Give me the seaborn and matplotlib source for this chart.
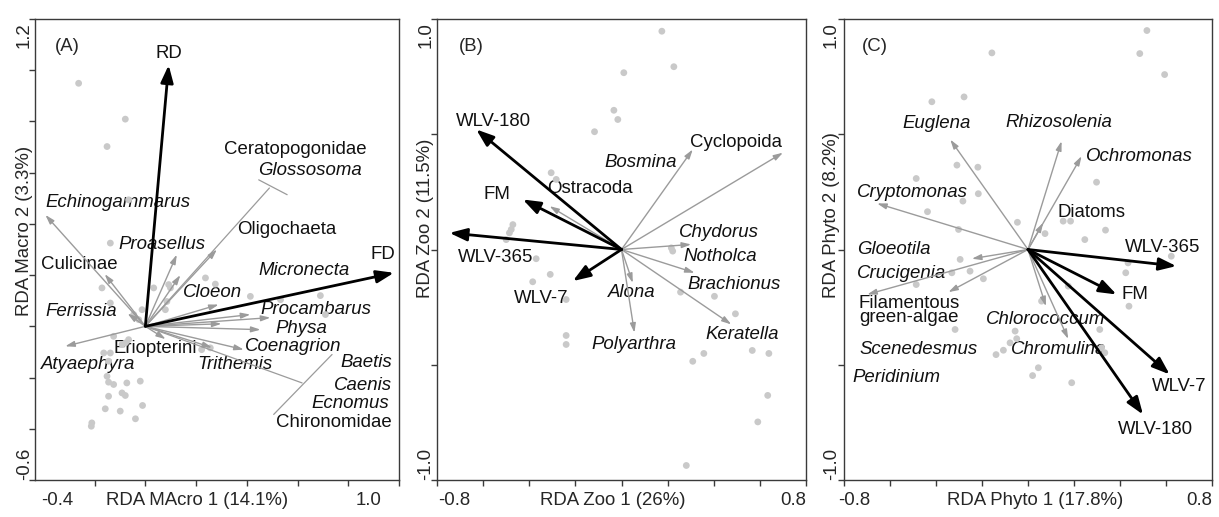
import matplotlib
matplotlib.use("Agg")
import matplotlib.pyplot as plt
import pandas as pd
import seaborn as sns

sns.set_theme(style="white")
plt.rcParams["font.family"] = ["Liberation Sans", "DejaVu Sans"]
FS = 13.4
plt.rcParams["font.size"] = FS

# ---------------- (A) macroinvertebrates ----------------
macro_site_x = [-0.263, -0.079, -0.151, -0.066, -0.138, -0.171, -0.138, -0.046, -0.013, -0.125,
                -0.066, -0.079, -0.164, -0.138, -0.145, -0.151, -0.145, -0.125, -0.073, -0.020,
                -0.092, -0.079, -0.145, -0.158, -0.099, -0.011, -0.039, -0.211, -0.213, 0.092,
                0.099, 0.033, 0.237, 0.276, 0.085, 0.079, 0.414, 0.533, 0.690, 0.710,
                0.222, 0.256, -0.026, -0.092]
macro_site_y = [0.949, 0.809, 0.702, 0.494, 0.325, 0.150, 0.091, 0.046, 0.065, -0.039,
                -0.052, -0.065, -0.104, -0.104, -0.136, -0.195, -0.218, -0.227, -0.221, -0.214,
                -0.260, -0.270, -0.273, -0.322, -0.331, -0.309, -0.361, -0.377, -0.390, 0.163,
                0.150, 0.150, 0.189, 0.165, 0.097, 0.065, 0.117, 0.104, 0.120, 0.046,
                -0.091, -0.084, 0.026, -0.071]
macro_env = ["RD", "FD"]
macro_env_x = [0.092, 0.980]
macro_env_y = [1.020, 0.209]
macro_taxa = ["Echinogammarus", "Culicinae", "Ferrissia", "Atyaephyra", "Proasellus",
              "Oligochaeta", "Cloeon", "Micronecta", "Procambarus", "Physa",
              "Coenagrion", "Trithemis", "Eriopterini", "", ""]
macro_taxa_x = [-0.394, -0.160, -0.070, -0.316, 0.124, 0.282, 0.289, 0.414, 0.493, 0.454,
                0.388, 0.263, 0.080, 0.138, 0.300]
macro_taxa_y = [0.435, 0.204, 0.050, -0.078, 0.280, 0.300, 0.085, 0.046, 0.034, -0.013,
                -0.091, -0.083, -0.050, 0.200, 0.010]
# taxa sharing one vector, ended by a bar
macro_group = ["Ceratopogonidae, Glossosoma", "Baetis, Caenis, Ecnomus, Chironomidae"]
macro_group_x = [0.489, 0.618]
macro_group_y = [0.540, -0.221]
macro_bar_x = [(0.447, 0.559), (0.736, 0.506)]
macro_bar_y = [(0.572, 0.514), (-0.110, -0.344)]

# ---------------- (B) zooplankton ----------------
zoo_site_x = [0.175, 0.227, 0.010, -0.033, -0.016, -0.117, -0.305, -0.283, -0.471, -0.478,
              -0.486, -0.500, 0.216, -0.370, -0.309, -0.385, -0.240, -0.240, -0.240, 0.256,
              0.403, 0.494, 0.357, 0.309, 0.567, 0.639, 0.634, 0.591, 0.281, 0.222]
zoo_site_y = [0.947, 0.793, 0.767, 0.604, 0.564, 0.511, 0.333, 0.304, 0.108, 0.087,
              0.072, 0.043, 0.007, -0.040, -0.108, -0.140, -0.217, -0.373, -0.412, -0.185,
              -0.203, -0.279, -0.451, -0.485, -0.438, -0.451, -0.633, -0.748, -0.937, -0.007]
zoo_env = ["WLV-180", "FM", "WLV-365", "WLV-7"]
zoo_env_x = [-0.630, -0.428, -0.746, -0.211]
zoo_env_y = [0.521, 0.217, 0.072, -0.137]
zoo_taxa = ["Bosmina", "Cyclopoida", "Ostracoda", "Chydorus", "Brachionus",
            "Keratella", "Alona", "Polyarthra"]
zoo_taxa_x = [0.309, 0.700, -0.312, 0.302, 0.317, 0.476, 0.049, 0.056]
zoo_taxa_y = [0.434, 0.420, 0.188, 0.022, -0.101, -0.325, -0.145, -0.361]

# ---------------- (C) phytoplankton ----------------
phyto_site_x = [0.517, 0.486, 0.594, -0.157, -0.418, -0.278, -0.309, -0.218, -0.486, -0.283,
                -0.216, -0.437, -0.302, 0.298, -0.046, 0.074, 0.153, 0.185, 0.337, 0.247,
                -0.295, -0.252, -0.331, -0.194, -0.486, -0.317, -0.056, -0.049, -0.078, -0.107,
                -0.139, 0.045, 0.020, 0.190, 0.059, 0.312, 0.320, 0.334, 0.435, 0.425,
                0.439, 0.623, 0.175]
phyto_site_y = [0.950, 0.850, 0.759, 0.853, 0.641, 0.662, 0.366, 0.357, 0.308, 0.210,
                0.242, 0.164, 0.087, 0.292, 0.118, 0.069, 0.123, 0.123, 0.084, 0.043,
                -0.043, -0.094, -0.101, -0.127, -0.152, -0.347, -0.354, -0.387, -0.405, -0.437,
                -0.456, -0.513, -0.547, -0.578, -0.224, -0.347, -0.426, -0.448, -0.058, -0.101,
                -0.246, -0.029, -0.159]
phyto_env = ["WLV-365", "FM", "WLV-7", "WLV-180"]
phyto_env_x = [0.645, 0.385, 0.616, 0.500]
phyto_env_y = [-0.072, -0.195, -0.542, -0.716]
phyto_taxa = ["Euglena", "Rhizosolenia", "Ochromonas", "Diatoms", "Cryptomonas",
              "Gloeotila", "Crucigenia", "Filamentous green-algae", "Chlorococcum", "Chromulina"]
phyto_taxa_x = [-0.338, 0.146, 0.233, 0.066, -0.656, -0.244, -0.346, -0.699, 0.078, 0.175]
phyto_taxa_y = [0.477, 0.470, 0.405, 0.116, 0.200, -0.040, -0.185, -0.195, -0.246, -0.388]

# label placement: (text, x, y, horizontal alignment, italic)
macro_labels = [
    ("RD", 0.092, 1.067, "center", False), ("FD", 0.937, 0.280, "center", False),
    ("Ceratopogonidae", 0.873, 0.689, "right", False), ("Glossosoma", 0.853, 0.607, "right", True),
    ("Echinogammarus", -0.394, 0.482, "left", True), ("Oligochaeta", 0.559, 0.377, "center", False),
    ("Proasellus", 0.066, 0.318, "center", True), ("Culicinae", -0.413, 0.240, "left", False),
    ("Micronecta", 0.624, 0.218, "center", True), ("Cloeon", 0.263, 0.131, "center", True),
    ("Ferrissia", -0.393, 0.057, "left", True), ("Procambarus", 0.672, 0.065, "center", True),
    ("Physa", 0.615, -0.010, "center", True), ("Coenagrion", 0.583, -0.078, "center", True),
    ("Eriopterini", 0.039, -0.087, "center", False), ("Atyaephyra", -0.413, -0.149, "left", True),
    ("Trithemis", 0.352, -0.149, "center", True), ("Baetis", 0.972, -0.143, "right", True),
    ("Caenis", 0.972, -0.231, "right", True), ("Ecnomus", 0.960, -0.301, "right", True),
    ("Chironomidae", 0.972, -0.374, "right", False),
]
zoo_labels = [
    ("WLV-180", -0.555, 0.557, "center", False), ("FM", -0.538, 0.239, "center", False),
    ("WLV-365", -0.547, -0.036, "center", False), ("WLV-7", -0.349, -0.214, "center", False),
    ("Cyclopoida", 0.497, 0.466, "center", False), ("Bosmina", 0.085, 0.376, "center", True),
    ("Ostracoda", -0.139, 0.263, "center", False), ("Chydorus", 0.421, 0.072, "center", True),
    ("Notholca", 0.429, -0.032, "center", True), ("Brachionus", 0.490, -0.152, "center", True),
    ("Alona", 0.046, -0.188, "center", True), ("Keratella", 0.523, -0.369, "center", True),
    ("Polyarthra", 0.056, -0.412, "center", True),
]
phyto_labels = [
    ("WLV-365", 0.587, 0.009, "center", False), ("FM", 0.464, -0.195, "center", False),
    ("WLV-7", 0.659, -0.593, "center", False), ("WLV-180", 0.554, -0.781, "center", False),
    ("Euglena", -0.398, 0.547, "center", True), ("Rhizosolenia", 0.134, 0.550, "center", True),
    ("Ochromonas", 0.486, 0.405, "center", True), ("Diatoms", 0.276, 0.162, "center", False),
    ("Cryptomonas", -0.743, 0.246, "left", True), ("Gloeotila", -0.743, 0.000, "left", True),
    ("Crucigenia", -0.743, -0.104, "left", True),
    ("Filamentous\ngreen-algae", -0.518, -0.265, "center", False),
    ("Chlorococcum", 0.077, -0.304, "center", True), ("Scenedesmus", -0.476, -0.434, "center", True),
    ("Chromulina", 0.134, -0.434, "center", True), ("Peridinium", -0.764, -0.557, "left", True),
]

SITE_COLOR = "#c9c9c9"
TAXA_COLOR = "#9b9b9b"
FRAME_COLOR = "#3a3a3a"


def vector(ax, x, y, color, lw, hl, hw, z):
    ax.annotate("", xy=(x, y), xytext=(0.0, 0.0), xycoords="data", textcoords="data",
                arrowprops=dict(arrowstyle=f"-|>,head_length={hl},head_width={hw}",
                                color=color, lw=lw, shrinkA=0, shrinkB=0, mutation_scale=10),
                zorder=z, annotation_clip=False)


def biplot(ax, sx, sy, tx, ty, ex, ey, labels, xlim, ylim, xticks, yticks,
           xends, yends, xtitle, ytitle, tag, layout):
    sites = pd.DataFrame({"x": sx, "y": sy})
    sns.scatterplot(data=sites, x="x", y="y", ax=ax, color=SITE_COLOR, s=24,
                    edgecolor="none", linewidth=0, zorder=3, legend=False)
    for x, y in zip(tx, ty):
        vector(ax, x, y, TAXA_COLOR, 1.0, 0.55, 0.17, 4)
    for x, y in zip(ex, ey):
        vector(ax, x, y, "black", 2.0, 1.05, 0.38, 5)
    for text, x, y, ha, it in labels:
        ax.text(x, y, text, ha=ha, va="center", fontsize=FS, color="#111111",
                style="italic" if it else "normal", linespacing=0.8, zorder=2)

    ax.set_xlim(*xlim)
    ax.set_ylim(*ylim)
    ax.set_xticks(xticks)
    ax.set_yticks(yticks)
    ax.set_xticklabels([])
    ax.set_yticklabels([])
    ax.set_xlabel("")
    ax.set_ylabel("")
    ax.tick_params(direction="out", length=4, width=1, color=FRAME_COLOR,
                   bottom=True, left=True)
    for sp in ax.spines.values():
        sp.set_color(FRAME_COLOR)
        sp.set_linewidth(1.0)

    xl, xr, ylx, ty_top, xt, yt = layout
    ax.text(xl, -0.0434, xends[0], transform=ax.transAxes, ha="left", va="center", fontsize=FS)
    ax.text(xr, -0.0434, xends[1], transform=ax.transAxes, ha="right", va="center", fontsize=FS)
    ax.text(xt, -0.0434, xtitle, transform=ax.transAxes, ha="center", va="center", fontsize=FS)
    ax.text(ylx, 0.0, yends[0], transform=ax.transAxes, rotation=90, ha="center", va="bottom", fontsize=FS)
    ax.text(ylx, ty_top, yends[1], transform=ax.transAxes, rotation=90, ha="center", va="top", fontsize=FS)
    ax.text(ylx, yt, ytitle, transform=ax.transAxes, rotation=90, ha="center", va="center", fontsize=FS)
    ax.text(tag[1], 0.94, tag[0], transform=ax.transAxes, ha="left", va="center", fontsize=FS)


fig = plt.figure(figsize=(12.19, 5.17), dpi=100)
axA = fig.add_axes([35 / 1219, 37 / 517, 364 / 1219, 461 / 517])
axB = fig.add_axes([437 / 1219, 37 / 517, 369 / 1219, 461 / 517])
axC = fig.add_axes([844 / 1219, 37 / 517, 368 / 1219, 461 / 517])

biplot(axA, macro_site_x, macro_site_y, macro_taxa_x, macro_taxa_y, macro_env_x, macro_env_y,
       macro_labels, (-0.435, 1.0), (-0.6, 1.2),
       [-0.2, 0.0, 0.2, 0.4, 0.6, 0.8, 1.0],
       [-0.6, -0.4, -0.2, 0.0, 0.2, 0.4, 0.6, 0.8, 1.0, 1.2],
       ("-0.4", "1.0"), ("-0.6", "1.2"), "RDA MAcro 1 (14.1%)", "RDA Macro 2 (3.3%)",
       ("(A)", 0.055), (0.016, 0.953, -0.029, 0.9935, 0.445, 0.54))
# grouped vectors with terminal bars
for gx, gy, bx, by in zip(macro_group_x, macro_group_y, macro_bar_x, macro_bar_y):
    axA.plot([0.0, gx], [0.0, gy], color=TAXA_COLOR, lw=0.9, zorder=4)
    axA.plot(bx, by, color=TAXA_COLOR, lw=0.9, zorder=4)

biplot(axB, zoo_site_x, zoo_site_y, zoo_taxa_x, zoo_taxa_y, zoo_env_x, zoo_env_y,
       zoo_labels, (-0.8, 0.8), (-1.0, 1.0),
       [-0.8, -0.6, -0.4, -0.2, 0.0, 0.2, 0.4, 0.6, 0.8],
       [-1.0, -0.5, 0.0, 0.5, 1.0],
       ("-0.8", "0.8"), ("-1.0", "1.0"), "RDA Zoo 1 (26%)", "RDA Zoo 2 (11.5%)",
       ("(B)", 0.058), (0.003, 1.0, -0.030, 0.9935, 0.477, 0.568))

biplot(axC, phyto_site_x, phyto_site_y, phyto_taxa_x, phyto_taxa_y, phyto_env_x, phyto_env_y,
       phyto_labels, (-0.8, 0.8), (-1.0, 1.0),
       [-0.8, -0.6, -0.4, -0.2, 0.0, 0.2, 0.4, 0.6, 0.8],
       [-1.0, -0.5, 0.0, 0.5, 1.0],
       ("-0.8", "0.8"), ("-1.0", "1.0"), "RDA Phyto 1 (17.8%)", "RDA Phyto 2 (8.2%)",
       ("(C)", 0.048), (-0.016, 1.0, -0.034, 0.9935, 0.519, 0.575))

fig.savefig("out.png", dpi=100, facecolor="white")
